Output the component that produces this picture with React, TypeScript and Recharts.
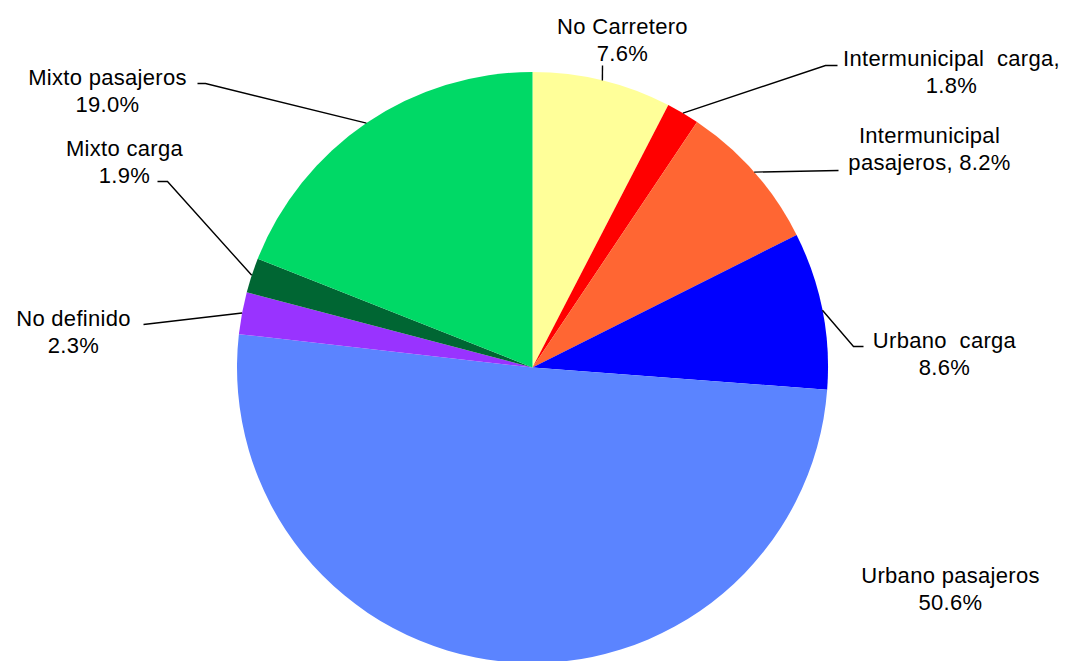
import React from "react";
import { PieChart, Pie, Cell } from "recharts";

const categories = [
  "No Carretero",
  "Intermunicipal carga",
  "Intermunicipal pasajeros",
  "Urbano carga",
  "Urbano pasajeros",
  "No definido",
  "Mixto carga",
  "Mixto pasajeros",
];
const values = [7.6, 1.8, 8.2, 8.6, 50.6, 2.3, 1.9, 19.0];
const labelLines: string[][] = [
  ["No Carretero", "7.6%"],
  ["Intermunicipal  carga,", "1.8%"],
  ["Intermunicipal", "pasajeros, 8.2%"],
  ["Urbano  carga", "8.6%"],
  ["Urbano pasajeros", "50.6%"],
  ["No definido", "2.3%"],
  ["Mixto carga", "1.9%"],
  ["Mixto pasajeros", "19.0%"],
];
const colors = [
  "#FFFF99",
  "#FF0000",
  "#FF6633",
  "#0000FF",
  "#5B84FF",
  "#9933FF",
  "#006633",
  "#00D966",
];

// label layout relative to pie centre: text centre x, first baseline y, leader elbows
const labelLayout: { dx: number; dy: number; elbows: number[][] }[] = [
  { dx: 90, dy: -334, elbows: [[70, -302]] },
  { dx: 419, dy: -302, elbows: [[293, -302], [305, -302]] },
  { dx: 397, dy: -225, elbows: [[306, -197]] },
  { dx: 412, dy: -20, elbows: [[321, -21], [331, -21]] },
  { dx: 418, dy: 215, elbows: [] },
  { dx: -459, dy: -42, elbows: [[-389, -43]] },
  { dx: -408, dy: -212, elbows: [[-365, -186], [-375, -186]] },
  { dx: -425, dy: -283, elbows: [[-327, -284], [-335, -284]] },
];

const data = categories.map((name, i) => ({ name, value: values[i] }));

const RADIAN = Math.PI / 180;
const FONT = "'Liberation Sans', Arial, sans-serif";

const renderLabel = (props: any) => {
  const { cx, cy, midAngle, outerRadius, index } = props;
  const layout = labelLayout[index];
  const lines = labelLines[index];
  const ex = cx + outerRadius * Math.cos(-midAngle * RADIAN);
  const ey = cy + outerRadius * Math.sin(-midAngle * RADIAN);
  const pts = [[ex, ey], ...layout.elbows.map(([x, y]) => [cx + x, cy + y])];
  return (
    <g key={`lbl-${index}`}>
      {layout.elbows.length > 0 && (
        <polyline
          points={pts.map((p) => p.join(",")).join(" ")}
          fill="none"
          stroke="#000"
          strokeWidth={1.4}
        />
      )}
      <text
        x={cx + layout.dx}
        y={cy + layout.dy}
        textAnchor="middle"
        fontFamily={FONT}
        fontSize={22}
        fill="#000"
        style={{ whiteSpace: "pre", letterSpacing: "0.3px" }}
      >
        {lines.map((t, j) => (
          <tspan key={j} x={cx + layout.dx} dy={j === 0 ? 0 : 27}>
            {t}
          </tspan>
        ))}
      </text>
    </g>
  );
};

export default function App() {
  return (
    <div style={{ position: "absolute", left: 0, top: 0, width: 1066, height: 661, background: "#fff" }}>
      <PieChart width={1066} height={661} margin={{ top: 0, right: 0, bottom: 0, left: 0 }}>
        <Pie
          data={data}
          dataKey="value"
          nameKey="name"
          cx={532.5}
          cy={367.5}
          outerRadius={295.5}
          startAngle={90}
          endAngle={-270}
          stroke="none"
          label={renderLabel}
          labelLine={false}
          isAnimationActive={false}
        >
          {data.map((d, i) => (
            <Cell key={d.name} fill={colors[i]} stroke="none" />
          ))}
        </Pie>
      </PieChart>
    </div>
  );
}
